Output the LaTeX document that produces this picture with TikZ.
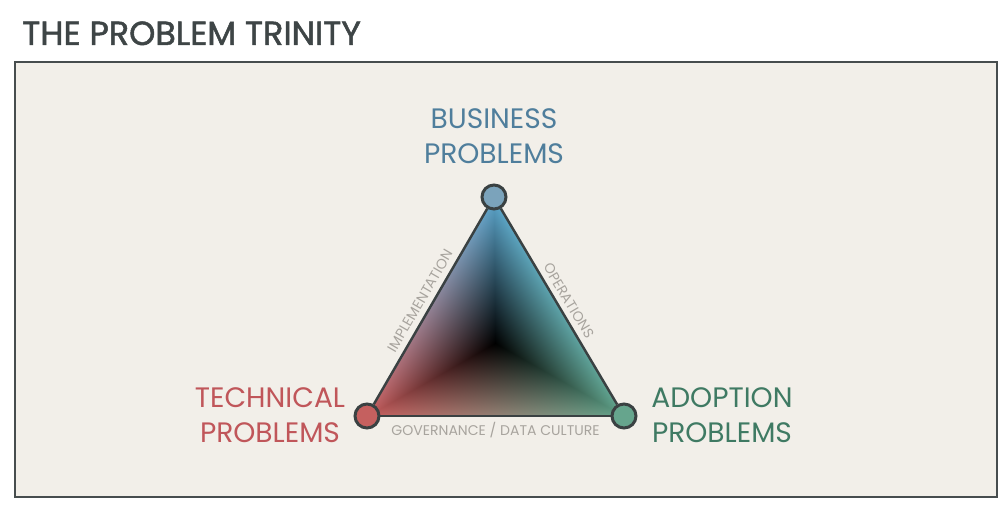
\documentclass[tikz,border=0pt]{standalone}
\usepackage{fontspec}
\setmainfont{Poppins}
\newfontfamily\titlefont{Poppins}[FakeBold=1.5]
\usepackage{tikz}

\definecolor{paper}{HTML}{F2EFE9}
\definecolor{frameline}{HTML}{474D4E}
\definecolor{ink}{HTML}{3E4546}
\definecolor{outline}{HTML}{3A4142}
\definecolor{bizblue}{HTML}{4F7E9C}
\definecolor{techred}{HTML}{C0565A}
\definecolor{adoptgreen}{HTML}{3F7A63}
\definecolor{bizfill}{HTML}{7BA3BB}
\definecolor{techfill}{HTML}{C5605F}
\definecolor{adoptfill}{HTML}{66A58D}
\definecolor{edgegrey}{HTML}{A8A49E}

% blue / red / green corners, black centre
\pgfdeclarefunctionalshading{trinity}{\pgfpointorigin}{\pgfpoint{100bp}{100bp}}{}{
  25 sub 50 div exch 25 sub 50 div exch
  2 copy 0.494 mul sub
  exch 3 -1 roll pop
  2 copy add 1 exch sub
  3 copy 2 copy gt {exch} if pop 2 copy gt {exch} if pop
  exch 1 index sub 4 1 roll
  exch 1 index sub 4 1 roll
  sub
  2 index 0.36 mul 2 index 0.78 mul add 1 index 0.38 mul add
  3 index 0.65 mul 3 index 0.37 mul add 2 index 0.64 mul add
  4 index 0.80 mul 4 index 0.37 mul add 3 index 0.54 mul add
  6 3 roll pop pop pop
}

\begin{document}
\begin{tikzpicture}[x=0.02cm, y=0.02cm,
  corner/.style={draw=outline, line width=1.7pt, shape=circle, minimum size=0.48cm, inner sep=0pt},
  side/.style={draw=outline, line width=1.4pt},
  big/.style={align=center, font=\fontsize{16}{20}\selectfont},
  small/.style={text=edgegrey, font=\fontsize{8}{10}\selectfont, inner sep=3pt}]

\useasboundingbox (0,0) rectangle (1000,510);
\fill[white] (0,0) rectangle (1000,510);
\draw[fill=paper, draw=frameline, line width=1pt] (15,13) rectangle (997,448);

\node[anchor=base west, text=ink, inner sep=0pt, font=\titlefont\fontsize{19}{22}\selectfont] (title) at (22,465) {THE PROBLEM TRINITY};

\coordinate (b) at (494,313);
\coordinate (t) at (367,94);
\coordinate (a) at (624,94);

\begin{scope}
\clip (b) -- (t) -- (a) -- cycle;
\shade[shading=trinity] (367,94) rectangle (624,313);
\end{scope}

\node[corner, fill=bizfill] (B) at (b) {};
\node[corner, fill=techfill] (T) at (t) {};
\node[corner, fill=adoptfill] (A) at (a) {};

\draw[side] (T) to node[sloped, above, small] {IMPLEMENTATION} (B);
\draw[side] (B) to node[sloped, above, small] {OPERATIONS} (A);
\draw[side] (T) to node[below, small] {GOVERNANCE / DATA CULTURE} (A);

\node[big, text=bizblue] (Blabel) at (494,374) {BUSINESS\\PROBLEMS};
\node[big, text=techred] (Tlabel) at (270,95) {TECHNICAL\\PROBLEMS};
\node[big, text=adoptgreen] (Alabel) at (722,95) {ADOPTION\\PROBLEMS};
\end{tikzpicture}
\end{document}
